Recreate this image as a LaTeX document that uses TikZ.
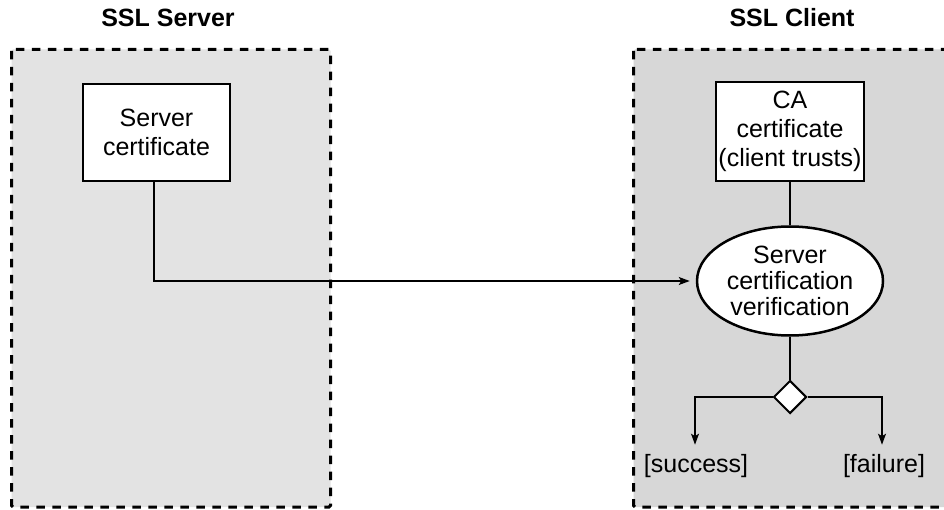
\documentclass[tikz,border=0pt]{standalone}
\usepackage{fontspec}
\setmainfont{Liberation Sans}
\usetikzlibrary{arrows.meta,shapes.geometric}
\definecolor{leftfill}{HTML}{E3E3E3}
\definecolor{rightfill}{HTML}{D7D7D7}
\begin{document}
\begin{tikzpicture}[x=1pt,y=-1pt,
  lane/.style={draw=black, line width=3pt, dash pattern=on 8.5pt off 7.5pt, rounded corners=1.5pt},
  lanetitle/.style={font=\fontsize{25}{29}\selectfont\bfseries, anchor=base, inner sep=0pt},
  txt/.style={font=\fontsize{25}{29}\selectfont, align=center, inner sep=0pt},
  certbox/.style={txt, draw, fill=white, line width=2.5pt},
  verif/.style={txt, font=\fontsize{25}{26}\selectfont, ellipse, draw, fill=white, line width=2.5pt, minimum width=186pt, minimum height=109pt},
  decision/.style={diamond, draw, fill=white, line width=2pt, minimum width=33pt, minimum height=33pt, inner sep=0pt},
  outcome/.style={font=\fontsize{25}{29}\selectfont, anchor=base, inner sep=0pt},
  conn/.style={line width=1.3pt},
  arr/.style={conn, -{Stealth[length=11pt,width=8pt,inset=2.5pt]}}]
\useasboundingbox (0,0) rectangle (944,510);
\clip (0,0) rectangle (944,510);
\fill[white] (0,0) rectangle (944,510);
% lanes
\draw[lane, fill=leftfill] (11.5,49.5) rectangle (330.5,507);
\draw[lane, fill=rightfill] (633.5,49.5) rectangle (960,507);
\node[lanetitle] (tS) at (168,27) {SSL Server};
\node[lanetitle] (tC) at (792,27) {SSL Client};
% nodes
\node[certbox, minimum width=147pt, minimum height=97pt] (sc) at (156.5,132.5) {Server\\certificate};
\node[certbox, minimum width=148pt, minimum height=99pt] (ca) at (790,131.5) {CA\\certificate\\(client trusts)};
\node[verif] (vv) at (790,281) {Server\\certification\\verification};
\node[decision] (dm) at (790,397) {};
\node[outcome] (succ) at (696,472) {[success]};
\node[outcome] (fail) at (884,472) {[failure]};
% connectors
\draw[arr, shorten >=6pt] ([xshift=-2.5pt]sc.south) |- (vv.west);
\draw[conn] (ca.south) -- (vv.north);
\draw[conn] (vv.south) -- (dm.north);
\draw[arr, shorten >=9pt] (dm.west) -| ([xshift=-1pt]succ.north);
\draw[arr, shorten >=9pt] (dm.east) -| ([xshift=-2pt]fail.north);
\end{tikzpicture}
\end{document}
